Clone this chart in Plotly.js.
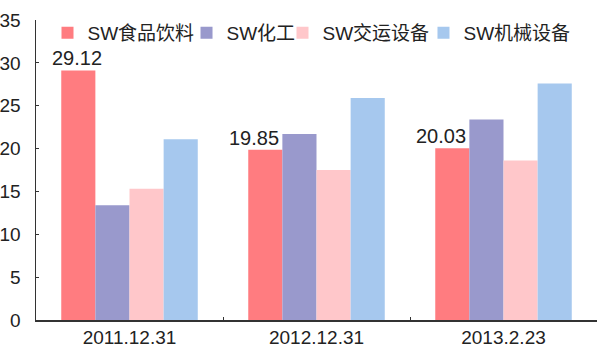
<!DOCTYPE html>
<html>
<head>
<meta charset="utf-8">
<script src="https://cdn.plot.ly/plotly-3.0.1.min.js"></script>
<style>html,body{margin:0;padding:0;background:#fff}#chart{width:600px;height:357px}</style>
</head>
<body>
<div id="chart"></div>
<script>
const categories = ["2011.12.31", "2012.12.31", "2013.2.23"];
const seriesNames = ["SW食品饮料", "SW化工", "SW交运设备", "SW机械设备"];
const foodBev = [29.12, 19.85, 20.03];
const chemical = [13.4, 21.7, 23.4];
const transport = [15.3, 17.5, 18.6];
const machinery = [21.1, 25.9, 27.6];
const foodLabels = ["29.12", "19.85", "20.03"];
const colors = ["#FF7C80", "#9999CC", "#FFC7CA", "#A6C8EE"];

const FONT = "Liberation Sans, Arial, Noto Sans CJK SC, sans-serif";
const values = [foodBev, chemical, transport, machinery];
const legendIds = ["legend", "legend2", "legend3", "legend4"];
const legendX = [0.0205, 0.2683, 0.4394, 0.6907];
const labelShift = [-53, -63, -63];

const traces = values.map((v, i) => ({
  type: "bar",
  name: seriesNames[i],
  x: categories,
  y: v,
  legend: legendIds[i],
  marker: {color: colors[i]},
  hoverinfo: "none"
}));

const annotations = categories.map((c, i) => ({
  x: c, y: foodBev[i], xref: "x", yref: "y",
  text: foodLabels[i], showarrow: false,
  xanchor: "center", yanchor: "bottom",
  xshift: labelShift[i], yshift: -1,
  font: {family: FONT, size: 20, color: "#222"}
}));

const layout = {
  width: 600, height: 357,
  margin: {l: 36, r: 3, t: 20, b: 37},
  paper_bgcolor: "#fff", plot_bgcolor: "#fff",
  barmode: "group",
  bargap: 0.27,
  bargroupgap: 0,
  font: {family: FONT, color: "#222", size: 19},
  showlegend: true,
  annotations: annotations,
  xaxis: {
    type: "category",
    showline: true, linecolor: "#333", linewidth: 1.5,
    ticks: "inside", tickson: "boundaries", ticklen: 3, tickcolor: "#333",
    showgrid: false, zeroline: false,
    tickfont: {family: FONT, size: 19, color: "#222"}
  },
  yaxis: {
    range: [0, 35], dtick: 5, tick0: 0,
    showline: true, linecolor: "#333", linewidth: 1.5,
    ticks: "inside", ticklen: 3, tickcolor: "#333",
    showgrid: false, zeroline: false,
    ticklabelstandoff: 10,
    tickfont: {family: FONT, size: 19, color: "#222"}
  }
};
legendIds.forEach((id, i) => {
  layout[id] = {
    orientation: "h", x: legendX[i], y: 1.02, xanchor: "left", yanchor: "top",
    font: {family: "Liberation Sans, Noto Sans CJK SC, sans-serif", size: 19, color: "#222"},
    itemwidth: 30, bgcolor: "rgba(0,0,0,0)"
  };
});

Plotly.newPlot("chart", traces, layout, {displayModeBar: false, staticPlot: true});
</script>
</body>
</html>
